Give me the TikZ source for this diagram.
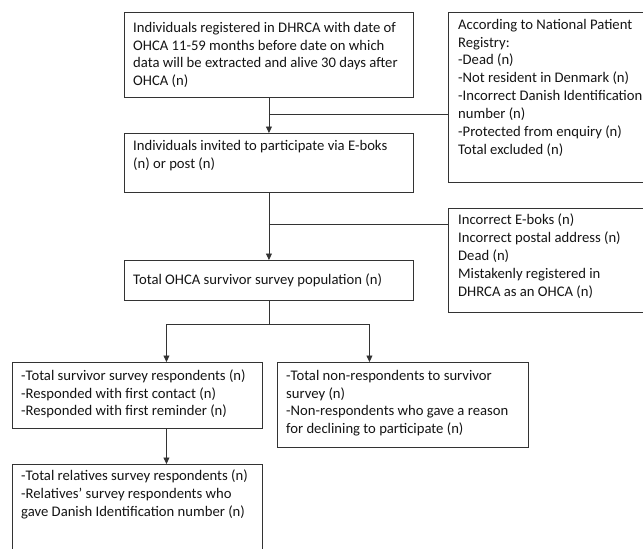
\documentclass[tikz,border=0pt]{standalone}
\usepackage{fontspec}
\setmainfont{Carlito}
\usetikzlibrary{arrows.meta,calc}
\newcommand{\fstrut}{\rule{0pt}{12pt}}
\tikzset{
  box/.style={draw=black!80, line width=0.9pt, inner sep=0pt, anchor=north west},
  txt/.style={anchor=north west, inner sep=0pt, align=left, font=\fontsize{14.67pt}{17.9pt}\selectfont, text=black!92},
  conn/.style={draw=black!80, line width=0.9pt},
  arr/.style={conn, -{Triangle[length=6.5pt,width=6pt]}}
}
\begin{document}
\begin{tikzpicture}[x=1pt,y=-1pt]
\clip (0,0) rectangle (643,549);
% boxes
\node[box, minimum width=289pt, minimum height=85pt] (b1) at (124,12) {};
\node[box, minimum width=220pt, minimum height=170pt] (r1) at (448,12) {};
\node[box, minimum width=289pt, minimum height=59pt] (b2) at (124,133) {};
\node[box, minimum width=220pt, minimum height=104pt] (r2) at (448,208) {};
\node[box, minimum width=289pt, minimum height=40pt] (b3) at (124,260) {};
\node[box, minimum width=250pt, minimum height=66pt] (b4) at (12,362) {};
\node[box, minimum width=251pt, minimum height=85pt] (b5) at (277,362) {};
\node[box, minimum width=250pt, minimum height=120pt] (b6) at (12,464) {};
% texts
\node[txt] (t1) at ($(b1.north west)+(9,7.9)$) {\fstrut Individuals registered in DHRCA with date of\\OHCA 11-59 months before date on which\\data will be extracted and alive 30 days after\\OHCA (n)};
\node[txt] (tr1) at ($(r1.north west)+(10,4.9)$) {\fstrut According to National Patient\\Registry:\\-Dead (n)\\-Not resident in Denmark (n)\\-Incorrect Danish Identification\\number (n)\\-Protected from enquiry (n)\\Total excluded (n)};
\node[txt] (t2) at ($(b2.north west)+(9,4.9)$) {\fstrut Individuals invited to participate via E-boks\\(n) or post (n)};
\node[txt] (tr2) at ($(r2.north west)+(10,4.4)$) {\fstrut Incorrect E-boks (n)\\Incorrect postal address (n)\\Dead (n)\\Mistakenly registered in\\DHRCA as an OHCA (n)};
\node[txt] (t3) at ($(b3.north west)+(9,12)$) {\fstrut Total OHCA survivor survey population (n)};
\node[txt] (t4) at ($(b4.north west)+(9,5.9)$) {\fstrut -Total survivor survey respondents (n)\\-Responded with first contact (n)\\-Responded with first reminder (n)};
\node[txt] (t5) at ($(b5.north west)+(9,5.9)$) {\fstrut -Total non-respondents to survivor\\survey (n)\\-Non-respondents who gave a reason\\for declining to participate (n)};
\node[txt] (t6) at ($(b6.north west)+(9,4)$) {\fstrut -Total relatives survey respondents (n)\\-Relatives’ survey respondents who\\gave Danish Identification number (n)};
% connectors
\coordinate (j1) at (b1.south |- 0,114);
\coordinate (j2) at (b2.south |- 0,224);
\coordinate (j3) at (b3.south |- 0,324);
\coordinate (a4) at ($(b4.north)+(29,0)$);
\coordinate (a5) at ($(b5.north)+(-33.5,0)$);
\coordinate (a4s) at ($(b4.south)+(29,0)$);
\coordinate (a6) at ($(b6.north)+(29,0)$);
\draw[arr] (b1.south) -- (b2.north);
\draw[conn] (j1) -- (j1 -| r1.west);
\draw[arr] (b2.south) -- (b3.north);
\draw[conn] (j2) -- (j2 -| r2.west);
\draw[conn] (b3.south) -- (j3);
\draw[arr] (j3) -| (a4);
\draw[arr] (j3) -| (a5);
\draw[arr] (a4s) -- (a6);
\end{tikzpicture}
\end{document}
